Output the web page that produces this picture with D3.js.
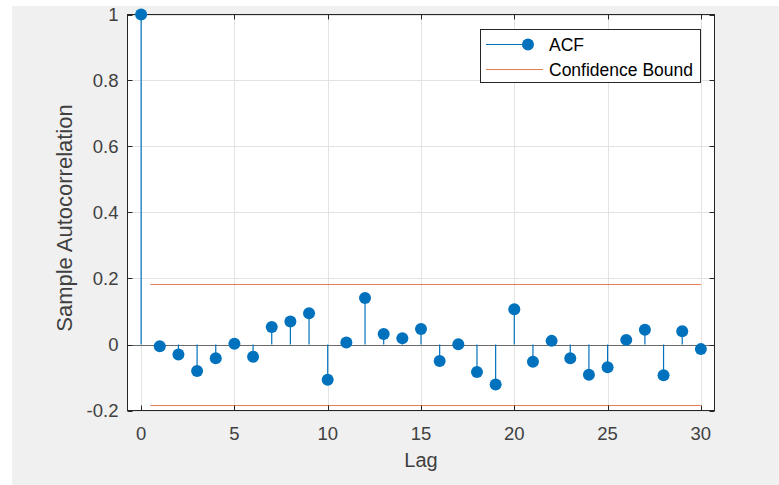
<!DOCTYPE html>
<html>
<head>
<meta charset="utf-8">
<script src="https://cdn.jsdelivr.net/npm/d3@7"></script>
<style>
  html, body { margin: 0; padding: 0; background: #ffffff; }
  svg { display: block; font-family: "Liberation Sans", Arial, Helvetica, sans-serif; }
</style>
</head>
<body>
<svg id="chart" width="779" height="485"></svg>
<script>
// ---- data ----
const lags = d3.range(0, 31);
const acf = [1, -0.005, -0.030, -0.080, -0.042, 0.002, -0.037, 0.053, 0.070, 0.095,
             -0.107, 0.006, 0.141, 0.032, 0.019, 0.047, -0.050, 0.001, -0.083, -0.121,
             0.107, -0.052, 0.011, -0.042, -0.092, -0.069, 0.014, 0.045, -0.093, 0.040, -0.014];
const confBound = 0.184;
const boundLagStart = 0.5;
const boundLagEnd = 30;
const xTicks = [0, 5, 10, 15, 20, 25, 30];
const yTicks = [-0.2, 0, 0.2, 0.4, 0.6, 0.8, 1];
const legendLabels = ["ACF", "Confidence Bound"];
const xLabel = "Lag";
const yLabel = "Sample Autocorrelation";

// ---- layout ----
const svg = d3.select("#chart");
const W = 779, H = 485;
const L = 127.5, R = 714.5, T = 14.5, B = 410.5;
const blue = "#0072BD", orange = "#D95319", axisCol = "#262626";

svg.append("rect").attr("x", 12).attr("y", 6).attr("width", W - 12).attr("height", H - 6).attr("fill", "#f0f0f0");
svg.append("rect").attr("x", L).attr("y", T).attr("width", R - L).attr("height", B - T).attr("fill", "#ffffff");

const x = d3.scaleLinear().domain([-0.73, 30.73]).range([L, R]);
const y = d3.scaleLinear().domain([-0.2, 1]).range([B, T]);

// grid
const grid = svg.append("g");
xTicks.forEach(t => {
  grid.append("line").attr("x1", Math.round(x(t)) + 0.5).attr("x2", Math.round(x(t)) + 0.5)
    .attr("y1", T).attr("y2", B).attr("stroke", "#e3e3e3").attr("stroke-width", 1);
});
yTicks.forEach(t => {
  grid.append("line").attr("y1", Math.round(y(t)) + 0.5).attr("y2", Math.round(y(t)) + 0.5)
    .attr("x1", L).attr("x2", R).attr("stroke", "#e3e3e3").attr("stroke-width", 1);
});

// confidence bounds
[confBound, -confBound].forEach(b => {
  svg.append("line").attr("x1", x(boundLagStart)).attr("x2", x(boundLagEnd))
    .attr("y1", Math.round(y(b)) + 0.5).attr("y2", Math.round(y(b)) + 0.5)
    .attr("stroke", orange).attr("stroke-opacity", 0.75).attr("stroke-width", 1);
});

// baseline
svg.append("line").attr("x1", L).attr("x2", R)
  .attr("y1", Math.round(y(0)) + 0.5).attr("y2", Math.round(y(0)) + 0.5)
  .attr("stroke", "#6a6a6a").attr("stroke-width", 1);

// stems
svg.append("g").selectAll("line").data(lags).join("line")
  .attr("x1", d => x(d)).attr("x2", d => x(d))
  .attr("y1", y(0)).attr("y2", d => y(acf[d]))
  .attr("stroke", blue).attr("stroke-width", 1.2);

// axes box and ticks
const ax = svg.append("g").attr("stroke", axisCol).attr("stroke-width", 1).attr("fill", "none");
ax.append("rect").attr("x", L).attr("y", T).attr("width", R - L).attr("height", B - T);
const tl = 5;
xTicks.forEach(t => {
  const px = Math.round(x(t)) + 0.5;
  ax.append("line").attr("x1", px).attr("x2", px).attr("y1", B).attr("y2", B - tl);
  ax.append("line").attr("x1", px).attr("x2", px).attr("y1", T).attr("y2", T + tl);
});
yTicks.forEach(t => {
  const py = Math.round(y(t)) + 0.5;
  ax.append("line").attr("y1", py).attr("y2", py).attr("x1", L).attr("x2", L + tl);
  ax.append("line").attr("y1", py).attr("y2", py).attr("x1", R).attr("x2", R - tl);
});

// markers
svg.append("g").selectAll("circle").data(lags).join("circle")
  .attr("cx", d => x(d)).attr("cy", d => y(acf[d])).attr("r", 6)
  .attr("fill", blue);

// tick labels
const txtCol = "#404040";
const fmt = d => (d === 0 ? "0" : d === 1 ? "1" : String(d));
svg.append("g").selectAll("text").data(xTicks).join("text")
  .attr("x", d => x(d)).attr("y", 439.5).attr("text-anchor", "middle")
  .attr("font-size", 18.5).attr("fill", txtCol).text(d => d);
svg.append("g").selectAll("text").data(yTicks).join("text")
  .attr("x", 118.5).attr("y", d => y(d)).attr("dy", "0.36em").attr("text-anchor", "end")
  .attr("font-size", 18.5).attr("fill", txtCol).text(fmt);

// axis labels
svg.append("text").attr("x", (L + R) / 2).attr("y", 467).attr("text-anchor", "middle")
  .attr("font-size", 20).attr("fill", txtCol).text(xLabel);
svg.append("text").attr("transform", `translate(71.5,218) rotate(-90)`)
  .attr("text-anchor", "middle").attr("font-size", 22).attr("fill", txtCol).text(yLabel);

// legend
const lg = svg.append("g");
lg.append("rect").attr("x", 480.5).attr("y", 29.5).attr("width", 220).attr("height", 53)
  .attr("fill", "#ffffff").attr("stroke", axisCol).attr("stroke-width", 1);
lg.append("line").attr("x1", 486).attr("x2", 528).attr("y1", 44.5).attr("y2", 44.5)
  .attr("stroke", blue).attr("stroke-width", 1.2);
lg.append("circle").attr("cx", 528).attr("cy", 44.5).attr("r", 6).attr("fill", blue);
lg.append("line").attr("x1", 486).attr("x2", 543).attr("y1", 69.5).attr("y2", 69.5)
  .attr("stroke", orange).attr("stroke-opacity", 0.75).attr("stroke-width", 1);
lg.selectAll("text").data(legendLabels).join("text")
  .attr("x", 549).attr("y", (d, i) => 44.5 + i * 25).attr("dy", "0.36em")
  .attr("font-size", 17.5).attr("fill", "#000000").text(d => d);
</script>
</body>
</html>
